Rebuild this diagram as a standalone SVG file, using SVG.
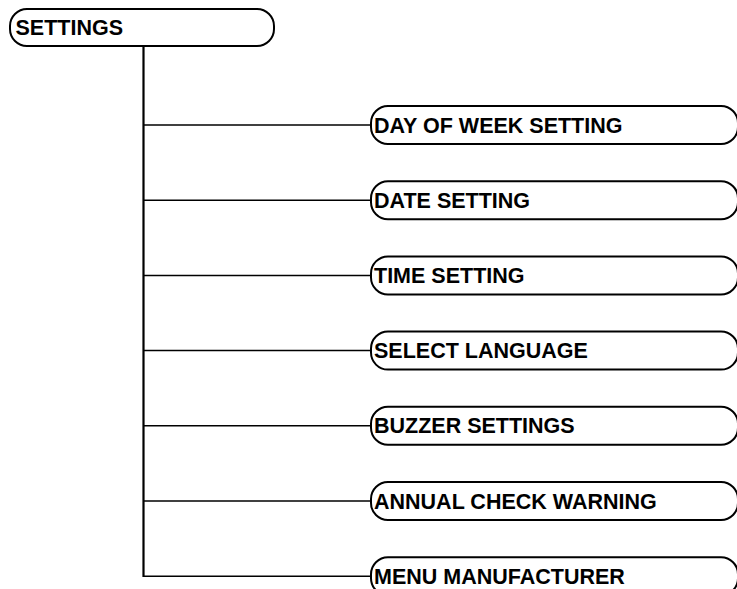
<svg xmlns="http://www.w3.org/2000/svg" width="737" height="589" viewBox="0 0 737 589">
<style>
.box{fill:#fff;stroke:#000;stroke-width:2}
.lbl{font-family:"Liberation Sans",Arial,sans-serif;font-weight:bold;font-size:21.5px;fill:#000}
.wire{fill:none;stroke:#000;stroke-width:1.5}
.trunk{fill:none;stroke:#000;stroke-width:2.2}
</style>
<rect width="737" height="589" fill="#fff"/>
<g id="connectors">
<line class="trunk" x1="143.5" y1="46" x2="143.5" y2="577"/>
<line class="wire" x1="143.5" y1="125" x2="371" y2="125"/>
<line class="wire" x1="143.5" y1="200.2" x2="371" y2="200.2"/>
<line class="wire" x1="143.5" y1="275.4" x2="371" y2="275.4"/>
<line class="wire" x1="143.5" y1="350.6" x2="371" y2="350.6"/>
<line class="wire" x1="143.5" y1="425.8" x2="371" y2="425.8"/>
<line class="wire" x1="143.5" y1="501" x2="371" y2="501"/>
<line class="wire" x1="143.5" y1="576.2" x2="371" y2="576.2"/>
</g>
<g id="settings">
<rect class="box" x="10" y="9" width="264" height="37" rx="17" ry="17"/>
<text class="lbl" x="15.5" y="34.5">SETTINGS</text>
</g>
<g id="day-of-week">
<rect class="box" x="371" y="106" width="367" height="38" rx="17" ry="17"/>
<text class="lbl" x="374" y="132.5">DAY OF WEEK SETTING</text>
</g>
<g id="date">
<rect class="box" x="371" y="181.2" width="367" height="38" rx="17" ry="17"/>
<text class="lbl" x="374" y="207.7">DATE SETTING</text>
</g>
<g id="time">
<rect class="box" x="371" y="256.4" width="367" height="38" rx="17" ry="17"/>
<text class="lbl" x="374" y="282.9">TIME SETTING</text>
</g>
<g id="language">
<rect class="box" x="371" y="331.6" width="367" height="38" rx="17" ry="17"/>
<text class="lbl" x="374" y="358.1">SELECT LANGUAGE</text>
</g>
<g id="buzzer">
<rect class="box" x="371" y="406.8" width="367" height="38" rx="17" ry="17"/>
<text class="lbl" x="374" y="433.3">BUZZER SETTINGS</text>
</g>
<g id="annual">
<rect class="box" x="371" y="482" width="367" height="38" rx="17" ry="17"/>
<text class="lbl" x="374" y="508.5">ANNUAL CHECK WARNING</text>
</g>
<g id="manufacturer">
<rect class="box" x="371" y="557.2" width="367" height="38" rx="17" ry="17"/>
<text class="lbl" x="374" y="583.7">MENU MANUFACTURER</text>
</g>
</svg>
